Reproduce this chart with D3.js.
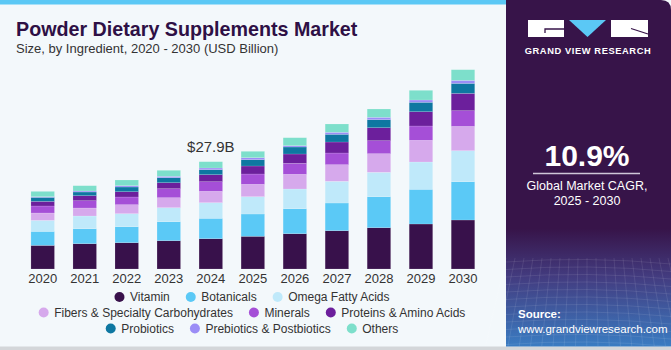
<!DOCTYPE html>
<html><head><meta charset="utf-8">
<script src="https://cdn.jsdelivr.net/npm/d3@7"></script>
<style>body{margin:0;background:#f3f8fb;}svg{display:block;}</style>
</head><body>
<svg id="c" width="671" height="350"></svg>
<script>
const years = ["2020","2021","2022","2023","2024","2025","2026","2027","2028","2029","2030"];
const seriesNames = ["Vitamin","Botanicals","Omega Fatty Acids","Fibers & Specialty Carbohydrates","Minerals","Proteins & Amino Acids","Probiotics","Prebiotics & Postbiotics","Others"];
const vitamin    = [6.14,6.58,6.84,7.36,7.88,8.50,9.18,9.96,10.74,11.70,12.74];
const botanicals = [3.64,3.90,4.16,4.94,5.30,5.80,6.50,7.20,8.06,9.02,9.96];
const omega      = [2.86,3.30,3.38,3.64,4.06,4.50,5.12,5.64,6.34,7.10,8.06];
const fibers     = [1.92,2.08,2.34,2.60,2.96,3.22,3.82,4.32,4.84,5.64,6.32];
const minerals   = [1.82,1.90,2.00,2.34,2.50,2.68,2.86,3.04,3.38,3.72,4.08];
const proteins   = [1.20,1.30,1.38,1.56,1.82,2.08,2.42,2.86,3.38,3.72,4.50];
const probiotics = [1.04,0.96,1.22,1.30,1.30,1.64,1.82,2.00,2.08,2.44,2.60];
const prebiotics = [0.18,0.26,0.34,0.36,0.44,0.52,0.34,0.52,0.62,0.60,0.78];
const others     = [1.38,1.38,1.48,1.56,1.64,1.66,2.08,2.16,2.16,2.52,2.78];
const colors = ["#38114b","#5bc9f6","#bfe9fa","#d6a9ec","#a54fd7","#6c1f9c","#0e77a1","#9b8df6","#7ddfcb"];
const annotationYear = "2024", annotationText = "$27.9B";

const allSeries = [vitamin,botanicals,omega,fibers,minerals,proteins,probiotics,prebiotics,others];
const rows = years.map((y,i)=>{const o={year:y}; seriesNames.forEach((s,j)=>o[s]=allSeries[j][i]); return o;});

const svg = d3.select("#c");
const FONT = "'Liberation Sans', Arial, sans-serif";

// background
svg.append("rect").attr("width",671).attr("height",350).attr("fill","#f3f8fb");
svg.append("rect").attr("x",0).attr("y",0).attr("width",506).attr("height",4.5).attr("fill","#5bc8f5");
svg.append("rect").attr("x",0).attr("y",346.5).attr("width",671).attr("height",3.5).attr("fill","#d3d6d9");

// right panel
const defs = svg.append("defs");
const g1 = defs.append("linearGradient").attr("id","pg").attr("x1",0).attr("y1",0).attr("x2",0).attr("y2",1);
g1.append("stop").attr("offset","0").attr("stop-color","#371449");
g1.append("stop").attr("offset","0.66").attr("stop-color","#371449");
g1.append("stop").attr("offset","0.8").attr("stop-color","#433c80");
g1.append("stop").attr("offset","1").attr("stop-color","#3a7cc2");
const panel = svg.append("g");
panel.append("path").attr("d","M506,0 H661 Q671,0 671,10 V346.5 H506 Z").attr("fill","url(#pg)");
const grid = panel.append("g").attr("stroke","#ffffff").attr("stroke-opacity",0.13).attr("stroke-width",0.7).attr("fill","none");
for(let k=0;k<12;k++){ const yy=262+k*7.5; grid.append("path").attr("d",`M506,${yy} Q588,${yy-6} 671,${yy+2}`); }
for(let k=0;k<20;k++){ const xx=506+k*9; grid.append("path").attr("d",`M${xx},258 L${xx+(xx-588)*0.25},346`); }

// logo
const logo = panel.append("g");
logo.append("rect").attr("x",528).attr("y",20).attr("width",36).attr("height",17).attr("fill","#fff");
logo.append("path").attr("d","M569,20 H606 L587.5,37 Z").attr("fill","#5bc8f5");
logo.append("rect").attr("x",611).attr("y",20).attr("width",37).attr("height",17).attr("fill","#fff");
logo.append("path").attr("d","M564,29 H545 V33").attr("stroke","#371449").attr("stroke-width",1.3).attr("fill","none");
logo.append("path").attr("d","M631,28.5 L648,34").attr("stroke","#371449").attr("stroke-width",1.3).attr("fill","none");
logo.append("text").attr("x",588).attr("y",53.5).attr("text-anchor","middle").attr("fill","#fff")
  .attr("font-family",FONT).attr("font-weight","bold").attr("font-size",9.3).attr("letter-spacing",0.6).text("GRAND VIEW RESEARCH");

panel.append("text").attr("x",587).attr("y",166).attr("text-anchor","middle").attr("fill","#fff")
  .attr("font-family",FONT).attr("font-weight","bold").attr("font-size",30).text("10.9%");
panel.append("line").attr("x1",533).attr("x2",640).attr("y1",173.5).attr("y2",173.5).attr("stroke","#cfc6d8").attr("stroke-width",1.3);
panel.append("text").attr("x",587).attr("y",190).attr("text-anchor","middle").attr("fill","#fff")
  .attr("font-family",FONT).attr("font-size",12.5).text("Global Market CAGR,");
panel.append("text").attr("x",587).attr("y",204.5).attr("text-anchor","middle").attr("fill","#fff")
  .attr("font-family",FONT).attr("font-size",12.5).text("2025 - 2030");
panel.append("text").attr("x",518).attr("y",318).attr("fill","#fff")
  .attr("font-family",FONT).attr("font-weight","bold").attr("font-size",11.5).text("Source:");
panel.append("text").attr("x",518).attr("y",333).attr("fill","#fff")
  .attr("font-family",FONT).attr("font-size",11.5).text("www.grandviewresearch.com");

// titles
svg.append("text").attr("x",16).attr("y",36).attr("fill","#2e1045").attr("font-family",FONT)
  .attr("font-weight","bold").attr("font-size",19.7).text("Powder Dietary Supplements Market");
svg.append("text").attr("x",16).attr("y",53).attr("fill","#333").attr("font-family",FONT)
  .attr("font-size",13).text("Size, by Ingredient, 2020 - 2030 (USD Billion)");

// scales
const x = d3.scaleBand().domain(years).range([21.7,484]).paddingInner(0.44).paddingOuter(0.22);
const y = d3.scaleLinear().domain([0,52]).range([269,269-3.846*52]);

const stack = d3.stack().keys(seriesNames)(rows);
svg.append("g").selectAll("g").data(stack).join("g").attr("fill",(d,i)=>colors[i])
  .selectAll("rect").data(d=>d).join("rect")
  .attr("x",d=>x(d.data.year)).attr("width",x.bandwidth())
  .attr("y",d=>y(d[1])).attr("height",d=>y(d[0])-y(d[1]))
  .attr("stroke","#ffffff").attr("stroke-opacity",0.25).attr("stroke-width",0.6);

const ax = svg.append("g").attr("transform","translate(0,269)").call(d3.axisBottom(x).tickSize(0).tickPadding(5));
ax.select(".domain").remove();
ax.selectAll("text").attr("font-family",FONT).attr("font-size",13).attr("fill","#333");

// annotation
const annIdx = years.indexOf(annotationYear);
const annTotal = d3.sum(allSeries, s=>s[annIdx]);
svg.append("text").attr("x",x(annotationYear)+x.bandwidth()/2).attr("y",y(annTotal)-9.5).attr("text-anchor","middle")
  .attr("font-family",FONT).attr("font-size",15).attr("fill","#333").text(annotationText);

// legend
const legendRows = [[0,1,2],[3,4,5],[6,7,8]];
const legendY = [297,312.5,328.5];
const lg = svg.append("g");
const cx = 252, gap = 16;
legendRows.forEach((r,ri)=>{
  const row = lg.append("g");
  let pos = 0;
  r.forEach((si,k)=>{
    const it = row.append("g").attr("transform",`translate(${pos},0)`);
    it.append("circle").attr("cx",5).attr("cy",0).attr("r",5).attr("fill",colors[si]);
    const t = it.append("text").attr("x",15.5).attr("y",4.3).attr("font-family",FONT).attr("font-size",12).attr("fill","#333").text(seriesNames[si]);
    const w = t.node().getComputedTextLength();
    pos += 15.5 + w + gap;
  });
  const total = pos - gap;
  row.attr("transform",`translate(${cx-total/2},${legendY[ri]})`);
});
</script>
</body></html>
